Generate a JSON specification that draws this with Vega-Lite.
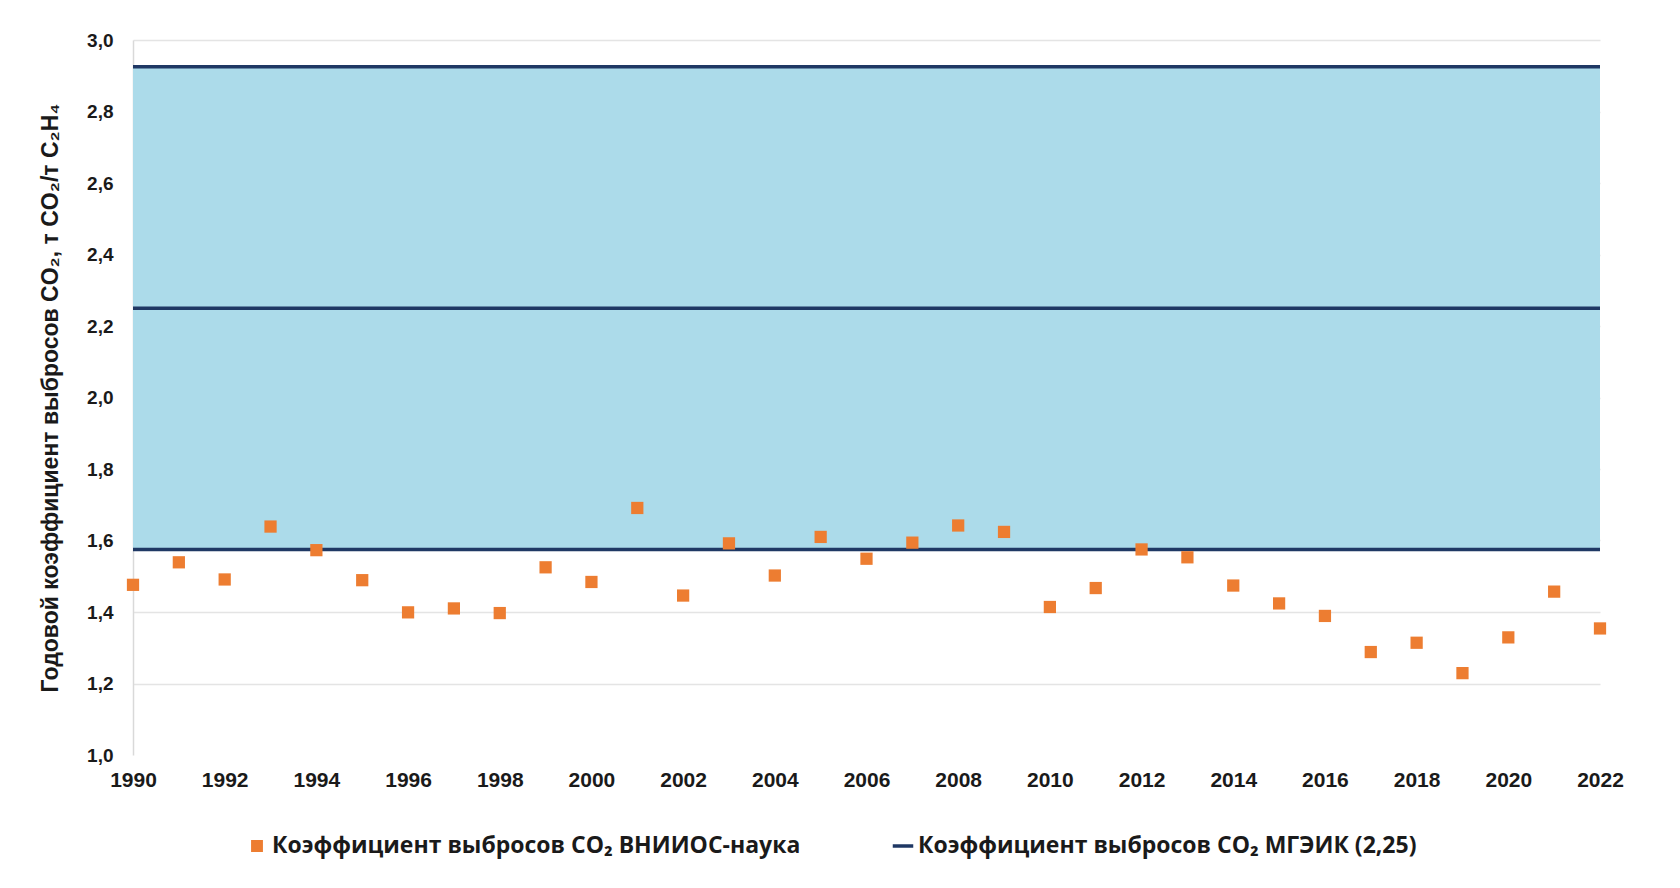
{
  "$schema": "https://vega.github.io/schema/vega-lite/v6.json",
  "width": 1467,
  "height": 715,
  "autosize": {"type": "none"},
  "padding": {"left": 133, "top": 40, "right": 80, "bottom": 133},
  "background": "white",
  "config": {
    "view": {"stroke": null},
    "axis": {"labelColor": "#1a1a1a", "titleColor": "#1a1a1a"}
  },
  "datasets": {
    "points": [
      {"year": 1990, "value": 1.476, "series": "Коэффициент выбросов CO₂ ВНИИОС-наука"},
      {"year": 1991, "value": 1.539, "series": "Коэффициент выбросов CO₂ ВНИИОС-наука"},
      {"year": 1992, "value": 1.491, "series": "Коэффициент выбросов CO₂ ВНИИОС-наука"},
      {"year": 1993, "value": 1.639, "series": "Коэффициент выбросов CO₂ ВНИИОС-наука"},
      {"year": 1994, "value": 1.573, "series": "Коэффициент выбросов CO₂ ВНИИОС-наука"},
      {"year": 1995, "value": 1.489, "series": "Коэффициент выбросов CO₂ ВНИИОС-наука"},
      {"year": 1996, "value": 1.399, "series": "Коэффициент выбросов CO₂ ВНИИОС-наука"},
      {"year": 1997, "value": 1.410, "series": "Коэффициент выбросов CO₂ ВНИИОС-наука"},
      {"year": 1998, "value": 1.397, "series": "Коэффициент выбросов CO₂ ВНИИОС-наука"},
      {"year": 1999, "value": 1.525, "series": "Коэффициент выбросов CO₂ ВНИИОС-наука"},
      {"year": 2000, "value": 1.484, "series": "Коэффициент выбросов CO₂ ВНИИОС-наука"},
      {"year": 2001, "value": 1.691, "series": "Коэффициент выбросов CO₂ ВНИИОС-наука"},
      {"year": 2002, "value": 1.446, "series": "Коэффициент выбросов CO₂ ВНИИОС-наука"},
      {"year": 2003, "value": 1.592, "series": "Коэффициент выбросов CO₂ ВНИИОС-наука"},
      {"year": 2004, "value": 1.502, "series": "Коэффициент выбросов CO₂ ВНИИОС-наука"},
      {"year": 2005, "value": 1.610, "series": "Коэффициент выбросов CO₂ ВНИИОС-наука"},
      {"year": 2006, "value": 1.549, "series": "Коэффициент выбросов CO₂ ВНИИОС-наука"},
      {"year": 2007, "value": 1.594, "series": "Коэффициент выбросов CO₂ ВНИИОС-наука"},
      {"year": 2008, "value": 1.642, "series": "Коэффициент выбросов CO₂ ВНИИОС-наука"},
      {"year": 2009, "value": 1.624, "series": "Коэффициент выбросов CO₂ ВНИИОС-наука"},
      {"year": 2010, "value": 1.414, "series": "Коэффициент выбросов CO₂ ВНИИОС-наука"},
      {"year": 2011, "value": 1.467, "series": "Коэффициент выбросов CO₂ ВНИИОС-наука"},
      {"year": 2012, "value": 1.575, "series": "Коэффициент выбросов CO₂ ВНИИОС-наука"},
      {"year": 2013, "value": 1.553, "series": "Коэффициент выбросов CO₂ ВНИИОС-наука"},
      {"year": 2014, "value": 1.474, "series": "Коэффициент выбросов CO₂ ВНИИОС-наука"},
      {"year": 2015, "value": 1.424, "series": "Коэффициент выбросов CO₂ ВНИИОС-наука"},
      {"year": 2016, "value": 1.389, "series": "Коэффициент выбросов CO₂ ВНИИОС-наука"},
      {"year": 2017, "value": 1.288, "series": "Коэффициент выбросов CO₂ ВНИИОС-наука"},
      {"year": 2018, "value": 1.314, "series": "Коэффициент выбросов CO₂ ВНИИОС-наука"},
      {"year": 2019, "value": 1.229, "series": "Коэффициент выбросов CO₂ ВНИИОС-наука"},
      {"year": 2020, "value": 1.329, "series": "Коэффициент выбросов CO₂ ВНИИОС-наука"},
      {"year": 2021, "value": 1.457, "series": "Коэффициент выбросов CO₂ ВНИИОС-наука"},
      {"year": 2022, "value": 1.354, "series": "Коэффициент выбросов CO₂ ВНИИОС-наука"}
    ],
    "band": [
      {"start": 1990, "end": 2022, "low": 1.575, "high": 2.925}
    ],
    "levels": [
      {"level": 1.575, "series": "Коэффициент выбросов CO₂ МГЭИК (2,25)"},
      {"level": 2.25, "series": "Коэффициент выбросов CO₂ МГЭИК (2,25)"},
      {"level": 2.925, "series": "Коэффициент выбросов CO₂ МГЭИК (2,25)"}
    ]
  },
  "layer": [
    {
      "data": {"name": "band"},
      "mark": {"type": "rect", "color": "#acdbea", "opacity": 1},
      "encoding": {
        "x": {
          "field": "start", "type": "quantitative",
          "scale": {"domain": [1990, 2022], "nice": false, "zero": false},
          "axis": {
            "values": [1990, 1992, 1994, 1996, 1998, 2000, 2002, 2004, 2006, 2008, 2010, 2012, 2014, 2016, 2018, 2020, 2022],
            "format": "d",
            "title": null,
            "grid": false,
            "domain": false,
            "ticks": false,
            "labelPadding": 14,
            "labelFont": "Liberation Sans Narrow, Liberation Sans",
            "labelFontWeight": "bold",
            "labelFontSize": 21,
            "labelFlush": false
          }
        },
        "x2": {"field": "end"},
        "y": {
          "field": "low", "type": "quantitative",
          "scale": {"domain": [1.0, 3.0], "nice": false, "zero": false},
          "axis": {
            "values": [1.0, 1.2, 1.4, 1.6, 1.8, 2.0, 2.2, 2.4, 2.6, 2.8, 3.0],
            "labelExpr": "replace(format(datum.value, '.1f'), '.', ',')",
            "title": "Годовой коэффициент выбросов CO₂,  т CO₂/т C₂H₄",
            "titleFont": "Liberation Sans",
            "titleFontWeight": "bold",
            "titleFontSize": 23,
            "titlePadding": 24,
            "labelFont": "Liberation Sans",
            "labelFontWeight": "bold",
            "labelFontSize": 19,
            "labelPadding": 20,
            "labelFlush": false,
            "ticks": false,
            "domain": true,
            "domainColor": "#d9d9d9",
            "domainWidth": 1.5,
            "gridColor": {"condition": {"test": "datum.value == 1", "value": "transparent"}, "value": "#e4e4e4"},
            "gridWidth": 1.5
          }
        },
        "y2": {"field": "high"}
      }
    },
    {
      "data": {"name": "levels"},
      "mark": {"type": "rule", "strokeWidth": 3.5},
      "encoding": {
        "y": {"field": "level", "type": "quantitative"},
        "color": {"field": "series", "type": "nominal"}
      }
    },
    {
      "data": {"name": "points"},
      "mark": {"type": "point", "filled": true, "opacity": 1, "size": 150},
      "encoding": {
        "x": {"field": "year", "type": "quantitative"},
        "y": {"field": "value", "type": "quantitative"},
        "shape": {
          "field": "series", "type": "nominal",
          "scale": {
            "domain": ["Коэффициент выбросов CO₂ ВНИИОС-наука", "Коэффициент выбросов CO₂ МГЭИК (2,25)"],
            "range": ["square", "stroke"]
          },
          "legend": null
        },
        "color": {
          "field": "series", "type": "nominal",
          "scale": {
            "domain": ["Коэффициент выбросов CO₂ ВНИИОС-наука", "Коэффициент выбросов CO₂ МГЭИК (2,25)"],
            "range": ["#ed7d31", "#1f3864"]
          },
          "legend": {
            "title": null,
            "orient": "none",
            "direction": "horizontal",
            "legendX": 112,
            "legendY": 794,
            "labelFont": "Open Sans",
            "labelFontWeight": "bold",
            "labelFontSize": 23,
            "labelColor": "#1a1a1a",
            "labelLimit": 900,
            "labelOffset": 3,
            "columnPadding": 84,
            "symbolOpacity": 1,
            "symbolSize": 200,
            "encode": {
              "symbols": {
                "update": {
                  "shape": {"signal": "datum.value == 'Коэффициент выбросов CO₂ ВНИИОС-наука' ? 'square' : 'stroke'"},
                  "fill": {"scale": "color", "field": "value"},
                  "stroke": {"scale": "color", "field": "value"},
                  "strokeWidth": {"value": 3.5},
                  "size": {"signal": "datum.value == 'Коэффициент выбросов CO₂ ВНИИОС-наука' ? 70 : 420"}
                }
              }
            }
          }
        }
      }
    }
  ]
}
